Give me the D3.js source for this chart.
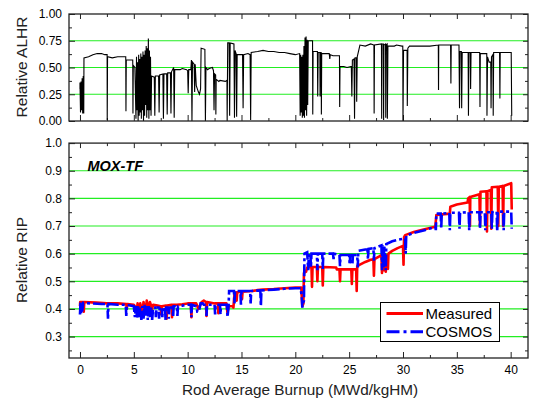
<!DOCTYPE html>
<html><head><meta charset="utf-8">
<script src="https://cdn.jsdelivr.net/npm/d3@7"></script>
<style>
html,body{margin:0;padding:0;background:#fff;}
svg{display:block;font-family:"Liberation Sans",Arial,sans-serif;}
</style></head><body>
<svg id="c" width="533" height="401"></svg>
<script>
// ---------------- DATA ----------------
const xTicks = [0,5,10,15,20,25,30,35,40];
const xMinor = [2.5,7.5,12.5,17.5,22.5,27.5,32.5,37.5];
const alhrTicks = [0,0.25,0.5,0.75,1.0];
const alhrMinor = [0.125,0.375,0.625,0.875];
const alhrGrid = [0.25,0.5,0.75];
const ripTicks = [0.3,0.4,0.5,0.6,0.7,0.8,0.9,1.0];
const ripMinor = [0.25,0.35,0.45,0.55,0.65,0.75,0.85,0.95];
const ripGrid = [0.3,0.4,0.5,0.6,0.7,0.8,0.9];
const seriesNames = ["Measured","COSMOS"];
const panelLabel = "MOX-TF";

// Relative ALHR (burnup, value)
const alhr = [
[0.0,0.30],[0.0,0.36],[0.05,0.08],[0.1,0.37],[0.15,0.10],[0.2,0.40],[0.25,0.07],[0.3,0.42],[0.35,0.07],[0.37,0.59],[0.8,0.60],[1.2,0.62],[1.6,0.63],[2.0,0.63],[2.3,0.62],[2.52,0.62],[2.53,0.01],[2.56,0.60],[3.0,0.59],[3.5,0.60],[4.25,0.60],[4.27,0.09],[4.3,0.57],[4.9,0.57],[4.92,0.07],[4.95,0.52],[5.1,0.50],
[5.2,0.02],[5.25,0.60],[5.3,0.10],[5.35,0.55],[5.4,0.0],[5.45,0.62],[5.5,0.05],[5.55,0.58],[5.6,0.08],[5.65,0.63],[5.7,0.02],[5.75,0.60],[5.8,0.10],[5.85,0.65],[5.9,0.0],[5.95,0.62],[6.0,0.05],[6.05,0.66],[6.1,0.15],[6.15,0.70],[6.2,0.03],[6.25,0.68],[6.3,0.10],[6.35,0.77],[6.4,0.02],[6.45,0.66],[6.5,0.10],[6.55,0.60],[6.6,0.05],[6.65,0.42],
[6.9,0.41],[6.95,0.05],[7.0,0.42],[7.3,0.42],[7.35,0.08],[7.4,0.43],[7.7,0.44],[7.75,0.02],[7.8,0.44],[8.05,0.44],[8.1,0.06],[8.15,0.45],[8.4,0.45],[8.45,0.07],[8.5,0.46],[8.7,0.50],[8.75,0.03],[8.8,0.48],[9.3,0.48],[9.5,0.49],[9.9,0.48],[10.0,0.47],[10.05,0.26],[10.1,0.48],[10.3,0.48],[10.35,0.57],[10.4,0.0],[10.45,0.55],[10.6,0.53],[10.65,0.27],[10.7,0.53],[10.8,0.33],[11.0,0.27],[11.1,0.25],[11.2,0.30],[11.25,0.68],[11.6,0.67],[11.65,0.0],[11.7,0.50],[11.85,0.48],[12.0,0.49],[12.3,0.50],[12.4,0.47],[12.45,0.10],[12.5,0.44],[12.6,0.43],[12.62,0.06],[12.65,0.39],[12.9,0.37],[13.0,0.38],[13.5,0.37],[13.65,0.38],[13.67,0.0],[13.72,0.73],[13.85,0.73],[13.9,0.05],[13.95,0.73],[14.3,0.72],[14.35,0.03],[14.4,0.66],[14.5,0.63],[14.55,0.04],[14.6,0.62],[15.1,0.62],[15.15,0.12],[15.2,0.62],[15.6,0.63],[15.8,0.62],[15.85,0.01],[15.9,0.64],[16.5,0.65],[17.0,0.66],[17.5,0.65],[18.0,0.65],[18.5,0.64],[19.0,0.64],[19.5,0.63],[20.0,0.62],[20.4,0.63],
[20.45,0.05],[20.5,0.62],[20.55,0.08],[20.6,0.60],[20.65,0.03],[20.7,0.62],[20.75,0.05],[20.8,0.70],[20.85,0.03],[20.9,0.78],[20.95,0.10],[21.0,0.79],[21.05,0.05],[21.1,0.76],[21.15,0.15],[21.2,0.75],[21.6,0.75],[21.62,0.06],[21.65,0.65],[22.05,0.65],[22.08,0.23],[22.12,0.64],[22.28,0.64],[22.3,0.23],[22.33,0.64],[22.4,0.64],[22.42,0.06],[22.45,0.63],[23.15,0.63],[23.2,0.58],[23.25,0.62],[23.5,0.61],[24.1,0.61],[24.12,0.13],[24.15,0.51],[24.5,0.51],[24.8,0.50],[25.2,0.51],[25.25,0.23],[25.3,0.57],[25.45,0.58],[25.5,0.02],[25.55,0.59],[25.68,0.59],[25.7,0.18],[25.75,0.60],[26.0,0.71],[26.5,0.70],[27.0,0.72],[27.3,0.71],[27.32,0.07],[27.35,0.71],[28.0,0.72],[28.02,0.02],[28.05,0.72],[28.18,0.72],[28.2,0.01],[28.23,0.71],[28.38,0.72],[28.4,0.03],[28.43,0.71],[28.53,0.72],[28.55,0.02],[28.6,0.70],[29.2,0.70],[29.4,0.71],[29.9,0.70],[29.98,0.70],[30.0,0.0],[30.05,0.66],[30.38,0.66],[30.4,0.14],[30.45,0.68],[30.6,0.70],[31.5,0.70],[32.5,0.70],[33.28,0.71],[33.3,0.29],[33.32,0.71],[34.42,0.71],[34.45,0.35],[34.48,0.71],[35.2,0.71],[35.25,0.12],[35.3,0.65],[35.42,0.65],[35.45,0.12],[35.5,0.64],[36.05,0.64],[36.08,0.05],[36.12,0.64],[36.25,0.64],[36.28,0.30],[36.32,0.64],[37.12,0.64],[37.15,0.13],[37.18,0.63],[37.78,0.63],[37.8,0.05],[37.85,0.60],[38.0,0.55],[38.15,0.55],[38.18,0.12],[38.22,0.60],[38.35,0.62],[38.38,0.05],[38.42,0.64],[38.97,0.64],[39.0,0.21],[39.03,0.64],[39.6,0.64],[40.05,0.64],[40.1,0.05]
];

// Relative RIP, Measured (burnup, value)
const measured = [
[0.0,0.41],[0.02,0.425],[0.3,0.425],[0.35,0.39],[0.4,0.425],[1.5,0.423],[2.5,0.42],[3.5,0.42],[4.3,0.418],[4.35,0.40],[4.4,0.418],[5.0,0.415],[5.3,0.40],[5.35,0.42],[5.5,0.39],[5.6,0.42],[5.8,0.385],[5.9,0.425],[6.1,0.39],[6.2,0.43],[6.4,0.395],[6.5,0.425],[6.7,0.40],[6.8,0.415],[7.2,0.412],[7.5,0.41],[7.55,0.38],[7.6,0.41],[8.0,0.412],[8.05,0.365],[8.1,0.412],[8.5,0.415],[8.55,0.37],[8.6,0.415],[9.0,0.415],[9.5,0.417],[10.0,0.42],[10.3,0.42],[10.35,0.37],[10.4,0.42],[10.8,0.42],[11.0,0.40],[11.3,0.425],[11.5,0.43],[11.7,0.425],[11.75,0.375],[11.8,0.425],[12.5,0.42],[12.8,0.42],[12.85,0.385],[12.9,0.42],[13.6,0.42],[13.7,0.385],[13.8,0.41],[14.0,0.41],[14.2,0.41],[14.25,0.405],[14.35,0.455],[14.5,0.46],[14.55,0.43],[14.6,0.46],[15.0,0.462],[15.05,0.435],[15.1,0.462],[16.0,0.465],[16.5,0.468],[17.0,0.47],[18.0,0.472],[19.0,0.475],[20.0,0.477],[20.55,0.477],[20.65,0.41],[20.75,0.42],[20.8,0.53],[21.0,0.535],[21.1,0.55],[21.5,0.552],[21.55,0.48],[21.6,0.552],[22.0,0.552],[22.05,0.50],[22.1,0.552],[22.5,0.552],[22.55,0.485],[22.6,0.552],[23.8,0.55],[23.85,0.543],[24.1,0.543],[24.15,0.50],[24.2,0.543],[25.2,0.543],[25.25,0.49],[25.3,0.543],[25.65,0.543],[25.7,0.465],[25.75,0.555],[26.0,0.56],[26.5,0.57],[27.0,0.578],[27.25,0.58],[27.3,0.52],[27.35,0.58],[27.8,0.59],[28.0,0.595],[28.05,0.53],[28.1,0.595],[28.2,0.54],[28.25,0.595],[28.4,0.535],[28.45,0.595],[28.6,0.545],[28.65,0.60],[29.0,0.61],[29.5,0.62],[30.0,0.628],[30.05,0.56],[30.1,0.66],[30.2,0.667],[31.0,0.678],[32.0,0.688],[33.0,0.697],[33.1,0.74],[34.35,0.745],[34.4,0.77],[35.0,0.778],[36.0,0.785],[36.05,0.80],[36.2,0.805],[36.22,0.70],[36.25,0.805],[37.1,0.815],[37.15,0.70],[37.2,0.824],[37.75,0.826],[37.8,0.68],[37.85,0.826],[38.15,0.83],[38.2,0.69],[38.25,0.84],[38.8,0.842],[38.85,0.70],[38.9,0.842],[39.25,0.845],[39.3,0.70],[39.35,0.845],[40.05,0.855],[40.1,0.76]
];

// Relative RIP, COSMOS (burnup, value)
const cosmos = [
[0.0,0.38],[0.05,0.425],[0.1,0.385],[0.15,0.425],[0.2,0.39],[0.3,0.422],[1.0,0.42],[2.0,0.418],[2.55,0.418],[2.6,0.365],[2.65,0.418],[3.5,0.415],[4.25,0.415],[4.3,0.375],[4.35,0.415],[5.0,0.41],[5.1,0.37],[5.2,0.41],[5.3,0.365],[5.4,0.41],[5.5,0.37],[5.6,0.405],[5.7,0.36],[5.8,0.41],[5.9,0.365],[6.0,0.415],[6.1,0.37],[6.2,0.41],[6.3,0.36],[6.4,0.41],[6.5,0.37],[6.6,0.405],[6.7,0.36],[6.8,0.405],[7.0,0.405],[7.05,0.37],[7.1,0.405],[7.3,0.405],[7.35,0.365],[7.4,0.405],[7.6,0.405],[7.65,0.37],[7.7,0.405],[7.9,0.405],[7.95,0.36],[8.0,0.405],[8.2,0.405],[8.25,0.365],[8.3,0.405],[8.6,0.405],[8.65,0.37],[8.7,0.41],[9.0,0.41],[9.05,0.375],[9.1,0.41],[9.5,0.412],[10.0,0.415],[10.3,0.415],[10.35,0.37],[10.4,0.415],[10.8,0.41],[10.9,0.39],[11.0,0.39],[11.1,0.40],[11.2,0.42],[11.4,0.42],[11.5,0.415],[11.7,0.415],[11.75,0.375],[11.8,0.415],[12.5,0.415],[12.55,0.38],[12.6,0.415],[13.0,0.415],[13.05,0.38],[13.1,0.415],[13.65,0.415],[13.7,0.37],[13.8,0.41],[13.85,0.465],[14.3,0.465],[14.35,0.42],[14.4,0.465],[14.9,0.465],[14.95,0.415],[15.0,0.465],[15.8,0.465],[15.85,0.42],[15.9,0.465],[16.75,0.467],[16.8,0.41],[16.85,0.467],[18.0,0.47],[19.0,0.473],[20.0,0.475],[20.5,0.475],[20.6,0.44],[20.65,0.405],[20.7,0.42],[20.8,0.43],[20.85,0.60],[21.1,0.605],[21.2,0.54],[21.25,0.60],[21.4,0.60],[21.45,0.55],[21.5,0.60],[22.0,0.60],[22.05,0.54],[22.1,0.60],[22.5,0.60],[22.55,0.545],[22.6,0.60],[23.5,0.60],[23.55,0.58],[23.6,0.60],[24.1,0.595],[24.15,0.555],[24.2,0.595],[25.0,0.595],[25.05,0.56],[25.1,0.595],[25.25,0.595],[25.3,0.56],[25.35,0.595],[25.75,0.595],[25.8,0.55],[25.85,0.61],[26.5,0.615],[26.7,0.615],[26.75,0.58],[26.8,0.617],[27.25,0.62],[27.3,0.575],[27.35,0.62],[28.0,0.63],[28.05,0.54],[28.1,0.63],[28.2,0.55],[28.25,0.63],[28.4,0.54],[28.45,0.635],[29.0,0.645],[29.5,0.65],[30.2,0.655],[30.25,0.60],[30.3,0.665],[31.0,0.675],[32.0,0.685],[33.0,0.697],[33.05,0.685],[33.1,0.745],[33.5,0.745],[33.55,0.69],[33.6,0.745],[34.3,0.747],[34.35,0.685],[34.4,0.748],[35.2,0.748],[35.25,0.69],[35.3,0.748],[36.1,0.75],[36.15,0.685],[36.2,0.75],[37.1,0.75],[37.15,0.69],[37.2,0.75],[37.6,0.75],[37.65,0.685],[37.7,0.75],[38.2,0.75],[38.25,0.69],[38.3,0.75],[38.7,0.752],[38.75,0.68],[38.8,0.752],[39.3,0.752],[39.35,0.685],[39.4,0.752],[40.05,0.752],[40.1,0.69]
];

// ---------------- DRAW ----------------
const svg = d3.select("#c");
const L = 69, R = 528;
const x = d3.scaleLinear().domain([-1.02, 41.61]).range([L, R]);
const yTop = d3.scaleLinear().domain([0, 1]).range([121, 14]);
const yBot = d3.scaleLinear().domain([0.2225, 1.0]).range([358, 143.1]);
const GREEN = "#22ee22";
const AX = "#222";

function panel(y, grid, major, minor, fmt, showXLabels, id) {
  const [y0, y1] = y.range();
  const g = svg.append("g");
  // grid
  g.selectAll("line.grid").data(grid).join("line")
    .attr("x1", L).attr("x2", R)
    .attr("y1", d => y(d)).attr("y2", d => y(d))
    .attr("stroke", GREEN).attr("stroke-width", 1.2);
  // clip
  svg.append("clipPath").attr("id", id).append("rect")
    .attr("x", L).attr("y", y1).attr("width", R - L).attr("height", y0 - y1);
  // axes
  const mk = (axis, tr) => {
    const a = g.append("g").attr("transform", tr).call(axis);
    a.select(".domain").remove();
    a.selectAll(".tick line").attr("stroke", AX).attr("stroke-width", 1);
    a.selectAll("text").attr("fill", "#000").style("font-size", "12px")
      .style("font-family", '"Liberation Sans",Arial,sans-serif');
    return a;
  };
  mk(d3.axisBottom(x).tickValues(xTicks).tickSize(-6).tickPadding(7)
      .tickFormat(showXLabels ? d3.format("d") : () => ""), `translate(0,${y0})`);
  mk(d3.axisBottom(x).tickValues(xMinor).tickSize(-3).tickFormat(() => ""), `translate(0,${y0})`);
  mk(d3.axisTop(x).tickValues(xTicks).tickSize(-5).tickFormat(() => ""), `translate(0,${y1})`);
  mk(d3.axisTop(x).tickValues(xMinor).tickSize(-3).tickFormat(() => ""), `translate(0,${y1})`);
  mk(d3.axisLeft(y).tickValues(major).tickSize(-6).tickPadding(7).tickFormat(fmt), `translate(${L},0)`);
  mk(d3.axisLeft(y).tickValues(minor).tickSize(-3).tickFormat(() => ""), `translate(${L},0)`);
  mk(d3.axisRight(y).tickValues(major).tickSize(-5).tickFormat(() => ""), `translate(${R},0)`);
  mk(d3.axisRight(y).tickValues(minor).tickSize(-3).tickFormat(() => ""), `translate(${R},0)`);
  return g;
}

panel(yTop, alhrGrid, alhrTicks, alhrMinor, d3.format(".2f"), false, "clipTop");
panel(yBot, ripGrid, ripTicks, ripMinor, d3.format(".1f"), true, "clipBot");

const lineTop = d3.line().x(d => x(d[0])).y(d => yTop(d[1]));
const lineBot = d3.line().x(d => x(d[0])).y(d => yBot(d[1]));

svg.append("path").datum(alhr).attr("d", lineTop)
  .attr("fill", "none").attr("stroke", "#000").attr("stroke-width", 1.1)
  .attr("clip-path", "url(#clipTop)");

svg.append("path").datum(measured).attr("d", lineBot)
  .attr("fill", "none").attr("stroke", "#ff0000").attr("stroke-width", 2.6)
  .attr("stroke-linejoin", "round").attr("clip-path", "url(#clipBot)");
svg.append("path").datum(cosmos).attr("d", lineBot)
  .attr("fill", "none").attr("stroke", "#0000ff").attr("stroke-width", 2.6)
  .attr("stroke-dasharray", "12,3,3,3").attr("clip-path", "url(#clipBot)");

// frames
[[yTop],[yBot]].forEach(([y]) => {
  const [y0, y1] = y.range();
  svg.append("rect").attr("x", L).attr("y", y1).attr("width", R - L).attr("height", y0 - y1)
    .attr("fill", "none").attr("stroke", AX).attr("stroke-width", 1.3);
});

// titles
const tf = '"Liberation Sans",Arial,sans-serif';
svg.append("text").attr("transform", "translate(27,67) rotate(-90)")
  .attr("text-anchor", "middle").style("font-size", "15.5px").style("font-family", tf)
  .attr("fill", "#222").text("Relative ALHR");
svg.append("text").attr("transform", "translate(27,260) rotate(-90)")
  .attr("text-anchor", "middle").style("font-size", "15.5px").style("font-family", tf)
  .attr("fill", "#222").text("Relative RIP");
svg.append("text").attr("x", 300).attr("y", 395)
  .attr("text-anchor", "middle").style("font-size", "15.3px").style("font-family", tf)
  .attr("fill", "#222").text("Rod Average Burnup (MWd/kgHM)");
svg.append("text").attr("x", 87.5).attr("y", 171)
  .style("font-size", "14.5px").style("font-weight", "bold").style("font-style", "italic")
  .style("font-family", tf).attr("fill", "#000").text(panelLabel);

// legend
const lg = svg.append("g");
lg.append("rect").attr("x", 380.5).attr("y", 302.5).attr("width", 119).attr("height", 39)
  .attr("fill", "#fff").attr("stroke", "#000").attr("stroke-width", 1);
const legStyles = [{c:"#ff0000", dash:null},{c:"#0000ff", dash:"13,4,3,4"}];
seriesNames.forEach((n, i) => {
  const yy = 313.5 + i * 18.3;
  lg.append("line").attr("x1", 386.5).attr("x2", 423).attr("y1", yy).attr("y2", yy)
    .attr("stroke", legStyles[i].c).attr("stroke-width", 3)
    .attr("stroke-dasharray", legStyles[i].dash);
  lg.append("text").attr("x", 425.5).attr("y", yy + 5.5)
    .style("font-size", "15px").style("font-family", tf).attr("fill", "#000").text(n);
});
</script>
</body></html>
